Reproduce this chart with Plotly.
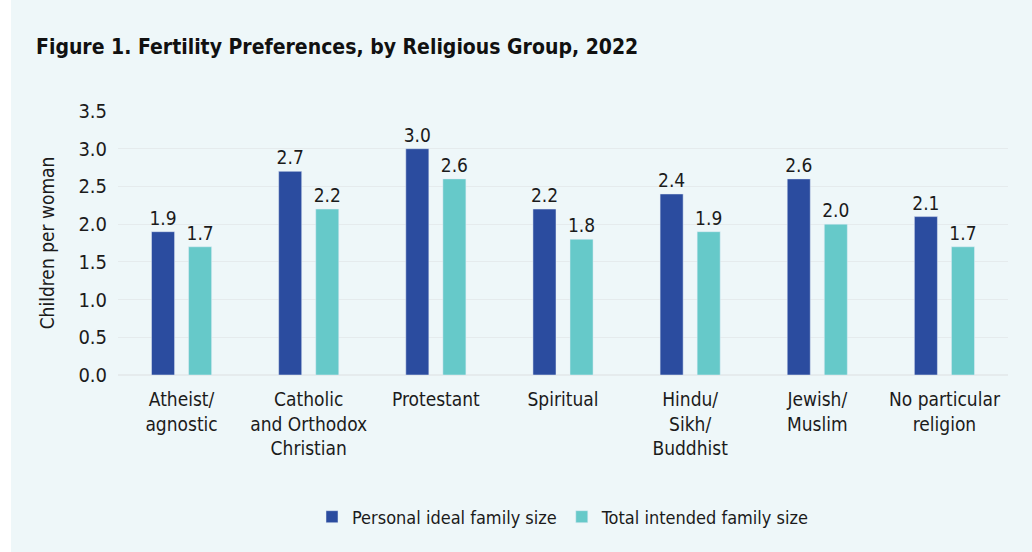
import plotly.graph_objects as go

categories = ["Atheist/<br>agnostic", "Catholic<br>and Orthodox<br>Christian", "Protestant",
              "Spiritual", "Hindu/<br>Sikh/<br>Buddhist", "Jewish/<br>Muslim",
              "No particular<br>religion"]
personal_ideal = [1.9, 2.7, 3.0, 2.2, 2.4, 2.6, 2.1]
total_intended = [1.7, 2.2, 2.6, 1.8, 1.9, 2.0, 1.7]
y_ticks = [0, 0.5, 1.0, 1.5, 2.0, 2.5, 3.0, 3.5]

FONT = "DejaVu Sans Condensed, Liberation Sans Narrow, sans-serif"
TXT = "#1b1b1b"
DARK = "#2B4C9F"
LIGHT = "#66C9C9"
BG = "#EEF7F9"

fig = go.Figure()
for name, vals, col in [("Personal ideal family size", personal_ideal, DARK),
                        ("Total intended family size", total_intended, LIGHT)]:
    fig.add_trace(go.Bar(name=name, x=categories, y=vals, marker_color=col,
                         text=[f"{v:.1f}" for v in vals], textposition="outside",
                         constraintext="none",
                         textfont=dict(size=19, color=TXT, family=FONT),
                         cliponaxis=False))

W, H = 1032, 552
L, R, T, B = 118, 24, 111, 177

fig.add_shape(type="rect", xref="paper", yref="paper",
              x0=(11 - L) / (W - L - R), x1=(W - L) / (W - L - R),
              y0=-(B) / (H - T - B), y1=(H - T - 7) / (H - T - B),
              fillcolor=BG, line_width=0, layer="below")

fig.update_layout(
    width=W, height=H,
    margin=dict(l=L, r=R, t=T, b=B, pad=0),
    paper_bgcolor="white", plot_bgcolor="rgba(0,0,0,0)",
    barmode="group", bargap=0.417, bargroupgap=0.378,
    font=dict(family=FONT, color=TXT, size=19),
    title=dict(text="<b>Figure 1. Fertility Preferences, by Religious Group, 2022</b>",
               x=36 / W, xanchor="left", y=1 - 47 / H, yanchor="middle",
               font=dict(size=21, color="#111111", family=FONT)),
    showlegend=True,
    legend=dict(orientation="h", x=0.5, xanchor="center", y=-(517 - 375) / (H - T - B),
                yanchor="middle", font=dict(size=18, color=TXT, family=FONT),
                bgcolor="rgba(0,0,0,0)", itemwidth=30, traceorder="normal"),
    xaxis=dict(showgrid=False, showline=False, ticks="outside", ticklen=7,
               tickcolor="rgba(0,0,0,0)", tickfont=dict(size=19, color=TXT, family=FONT)),
    yaxis=dict(range=[0, 3.5], tickvals=y_ticks, tickformat=".1f",
               gridcolor="#E5EBED", gridwidth=1, zeroline=True, zerolinecolor="#E5EBED",
               showline=False, ticks="", ticklabelstandoff=10,
               tickfont=dict(size=20, color=TXT, family=FONT),
               title=dict(text="Children per woman", standoff=18,
                          font=dict(size=19, color=TXT, family=FONT))),
)

fig.write_html("out.html")
